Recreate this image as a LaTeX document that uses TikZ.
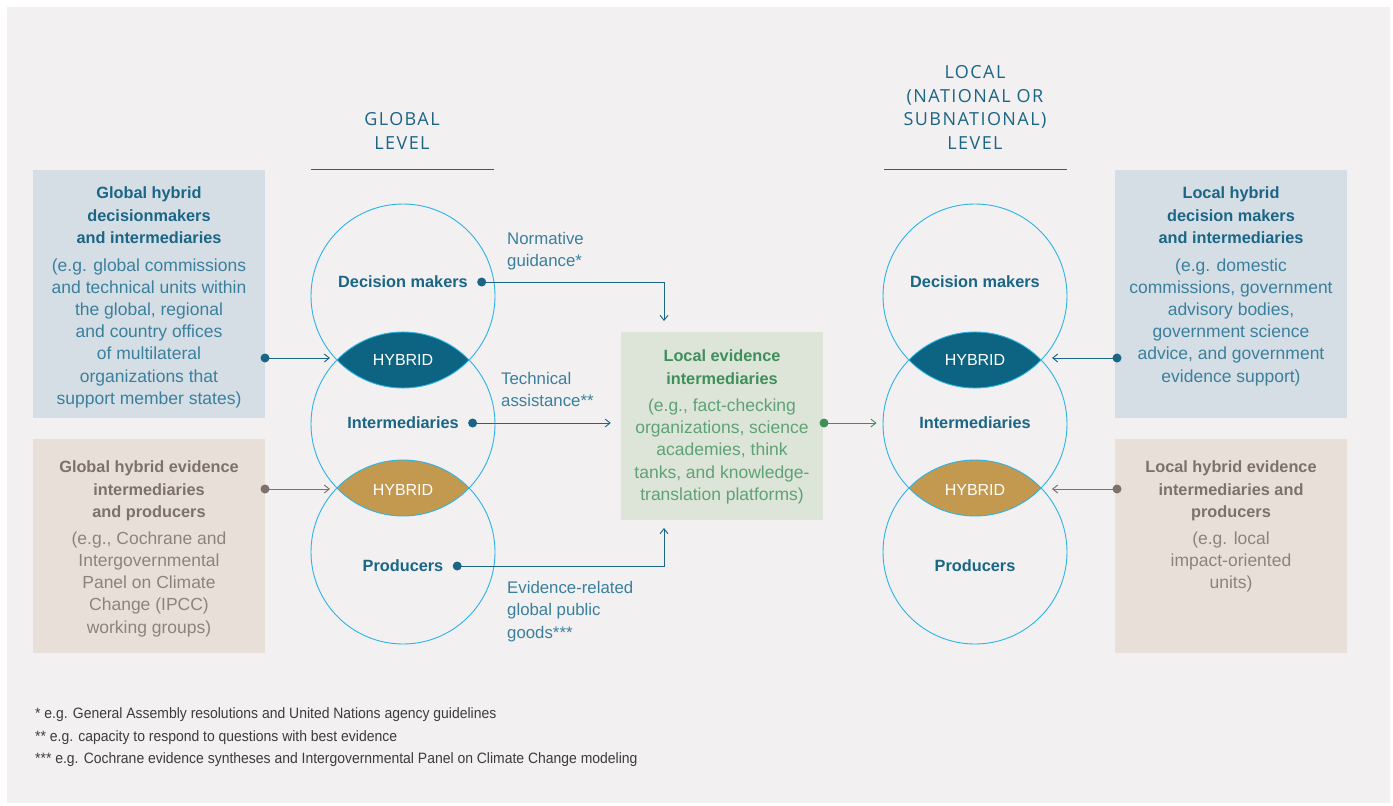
\documentclass[tikz,border=0pt]{standalone}
\usepackage{fontspec}
\setmainfont{Liberation Sans}
\newfontfamily\headfont[LetterSpace=8]{Open Sans}
\newfontfamily\notefont[FakeStretch=0.93]{Liberation Sans}
\usetikzlibrary{positioning, arrows.meta}

\definecolor{pagebg}{HTML}{F2F0F1}
\definecolor{tealdark}{HTML}{1B6585}
\definecolor{tealbody}{HTML}{3A809D}
\definecolor{ringblue}{HTML}{2BB4E6}
\definecolor{hybdark}{HTML}{0D6482}
\definecolor{hybgold}{HTML}{C3984F}
\definecolor{bluebox}{HTML}{D6DEE5}
\definecolor{beigebox}{HTML}{E8E0D8}
\definecolor{beigetitle}{HTML}{7E706B}
\definecolor{beigebody}{HTML}{8E827D}
\definecolor{greenbox}{HTML}{DDE5D8}
\definecolor{greentitle}{HTML}{3F8F5B}
\definecolor{greenbody}{HTML}{5FA277}
\definecolor{notegrey}{HTML}{3C3C3C}

\begin{document}
\begin{tikzpicture}[x=1pt, y=-1pt, >={Straight Barb[length=5pt,width=8pt]},
  ring/.style={draw=ringblue, line width=0.9pt, circle, minimum size=184pt, inner sep=0pt},
  circlabel/.style={font=\bfseries\fontsize{16.3}{18}\selectfont, text=tealdark, inner sep=0pt},
  hyblabel/.style={font=\fontsize{16}{18}\selectfont, text=white, inner sep=0pt},
  dot/.style={circle, fill=#1, minimum size=9pt, inner sep=0pt},
  flow/.style={->, draw=#1, line width=0.9pt},
  boxtitle/.style={font=\bfseries\fontsize{16.3}{22.5}\selectfont, align=center, inner sep=0pt},
  boxbody/.style={font=\fontsize{17.5}{22.2}\selectfont, align=center, inner sep=0pt},
  sidebox/.style={fill=#1, minimum width=232pt, minimum height=248pt, inner sep=0pt},
  linktxt/.style={font=\fontsize{16.8}{22.5}\selectfont, text=tealbody, align=left, inner sep=0pt, anchor=north west},
  headtxt/.style={font=\headfont\fontsize{18}{23.5}\selectfont, text=tealdark, align=center, inner sep=0pt},
  rule/.style={draw=tealdark, line width=0.9pt},
  note/.style={font=\notefont\fontsize{15}{16}\selectfont, text=notegrey, anchor=west, inner sep=0pt}]

% background
\fill[white] (0,0) rectangle (1393,806);
\fill[pagebg] (7,7) rectangle (1390,803);

% level headings
\node[headtxt] (ghead) at (402,131) {GLOBAL\\LEVEL};
\node[headtxt] (lhead) at (975,107.5) {LOCAL\\(NATIONAL OR\\SUBNATIONAL)\\LEVEL};
\draw[rule] (311,169) -- (494,169);
\draw[rule] (884,169) -- (1067,169);

% hybrid lenses
\foreach \cx in {403,975}{
  \begin{scope}
    \clip (\cx,296) circle (92);
    \fill[hybdark] (\cx,424) circle (92);
  \end{scope}
  \begin{scope}
    \clip (\cx,424) circle (92);
    \fill[hybgold] (\cx,552) circle (92);
  \end{scope}
}
\coordinate (glens1) at (337,358);
\coordinate (glens2) at (337,489);
\coordinate (llens1) at (1041,358);
\coordinate (llens2) at (1041,489);

% global circles
\node[ring] (gdec) at (403,296) {};
\node[ring] (gint) at (403,424) {};
\node[ring] (gpro) at (403,552) {};
\node[circlabel] (gdecl) at (403,282) {Decision makers};
\node[circlabel] (gintl) at (403,423) {Intermediaries};
\node[circlabel] (gprol) at (403,566) {Producers};
\node[hyblabel] (ghyb1) at (403,360) {HYBRID};
\node[hyblabel] (ghyb2) at (403,490) {HYBRID};
\node[dot=tealdark, right=9pt of gdecl] (gdecdot) {};
\node[dot=tealdark, right=9pt of gintl] (gintdot) {};
\node[dot=tealdark, right=9pt of gprol] (gprodot) {};

% local circles
\node[ring] (ldec) at (975,296) {};
\node[ring] (lint) at (975,424) {};
\node[ring] (lpro) at (975,552) {};
\node[circlabel] (ldecl) at (975,282) {Decision makers};
\node[circlabel] (lintl) at (975,423) {Intermediaries};
\node[circlabel] (lprol) at (975,566) {Producers};
\node[hyblabel] (lhyb1) at (975,360) {HYBRID};
\node[hyblabel] (lhyb2) at (975,490) {HYBRID};

% local evidence intermediaries
\node[fill=greenbox, minimum width=202pt, minimum height=188pt, inner sep=0pt] (leib) at (722,426) {};
\node[boxtitle, text=greentitle, anchor=north] (leibt) at ([yshift=-18pt]leib.north) {Local evidence\\intermediaries};
\node[boxbody, text=greenbody, below=14pt of leibt] (leibb) {(e.g., fact-checking\\organizations, science\\academies, think\\tanks, and knowledge-\\translation platforms)};
\node[dot=greentitle] (leibdot) at (824,423) {};

% side boxes
\node[sidebox=bluebox] (gbox) at (149,294) {};
\node[boxtitle, text=tealdark, anchor=north] (gboxt) at ([yshift=-17pt]gbox.north) {Global hybrid\\decisionmakers\\and intermediaries};
\node[boxbody, text=tealbody, below=14pt of gboxt] (gboxb) {(e.g. global commissions\\and technical units within\\the global, regional\\and country offices\\of multilateral\\organizations that\\support member states)};
\node[sidebox=beigebox, minimum height=214pt] (gprod) at (149,546) {};
\node[boxtitle, text=beigetitle, anchor=north] (gprodt) at ([yshift=-22pt]gprod.north) {Global hybrid evidence\\intermediaries\\and producers};
\node[boxbody, text=beigebody, below=10pt of gprodt] (gprodb) {(e.g., Cochrane and\\Intergovernmental\\Panel on Climate\\Change (IPCC)\\working groups)};

\node[sidebox=bluebox] (lbox) at (1231,294) {};
\node[boxtitle, text=tealdark, anchor=north] (lboxt) at ([yshift=-17pt]lbox.north) {Local hybrid\\decision makers\\and intermediaries};
\node[boxbody, text=tealbody, below=14pt of lboxt] (lboxb) {(e.g. domestic\\commissions, government\\advisory bodies,\\government science\\advice, and government\\evidence support)};
\node[sidebox=beigebox, minimum height=214pt] (lprod) at (1231,546) {};
\node[boxtitle, text=beigetitle, anchor=north] (lprodt) at ([yshift=-22pt]lprod.north) {Local hybrid evidence\\intermediaries and\\producers};
\node[boxbody, text=beigebody, below=10pt of lprodt] (lprodb) {(e.g. local\\impact-oriented\\units)};

\node[dot=tealdark] (gboxdot) at (265,358) {};
\node[dot=beigetitle] (gproddot) at (265,489) {};
\node[dot=tealdark] (lboxdot) at (1117,358) {};
\node[dot=beigetitle] (lproddot) at (1117,489) {};

% connectors
\coordinate (ntip) at (664,321);
\coordinate (ptip) at (664,528);
\draw[flow=tealdark] (gdecdot.center) -| (ntip);
\draw[flow=tealdark, shorten >=10pt] (gintdot.center) -- (gintdot -| leib.west);
\draw[flow=tealdark] (gprodot.center) -| (ptip);
\draw[flow=greentitle, shorten >=6pt] (leibdot.center) -- (leibdot -| lint.west);
\draw[flow=tealdark, shorten >=7pt] (gboxdot.center) -- (glens1);
\draw[flow=beigetitle, shorten >=7pt] (gproddot.center) -- (glens2);
\draw[flow=tealdark, shorten >=11pt] (lboxdot.center) -- (llens1);
\draw[flow=beigetitle, shorten >=11pt] (lproddot.center) -- (llens2);

% connector labels
\node[linktxt] (normlab) at (507,232) {Normative\\guidance*};
\node[linktxt] (techlab) at (501,372) {Technical\\assistance**};
\node[linktxt] (goodlab) at (507,581) {Evidence-related\\global public\\goods***};

% footnotes
\node[note] (note1) at (35,715) {* e.g. General Assembly resolutions and United Nations agency guidelines};
\node[note] (note2) at (35,738) {** e.g. capacity to respond to questions with best evidence};
\node[note] (note3) at (35,760) {*** e.g. Cochrane evidence syntheses and Intergovernmental Panel on Climate Change modeling};
\end{tikzpicture}
\end{document}
